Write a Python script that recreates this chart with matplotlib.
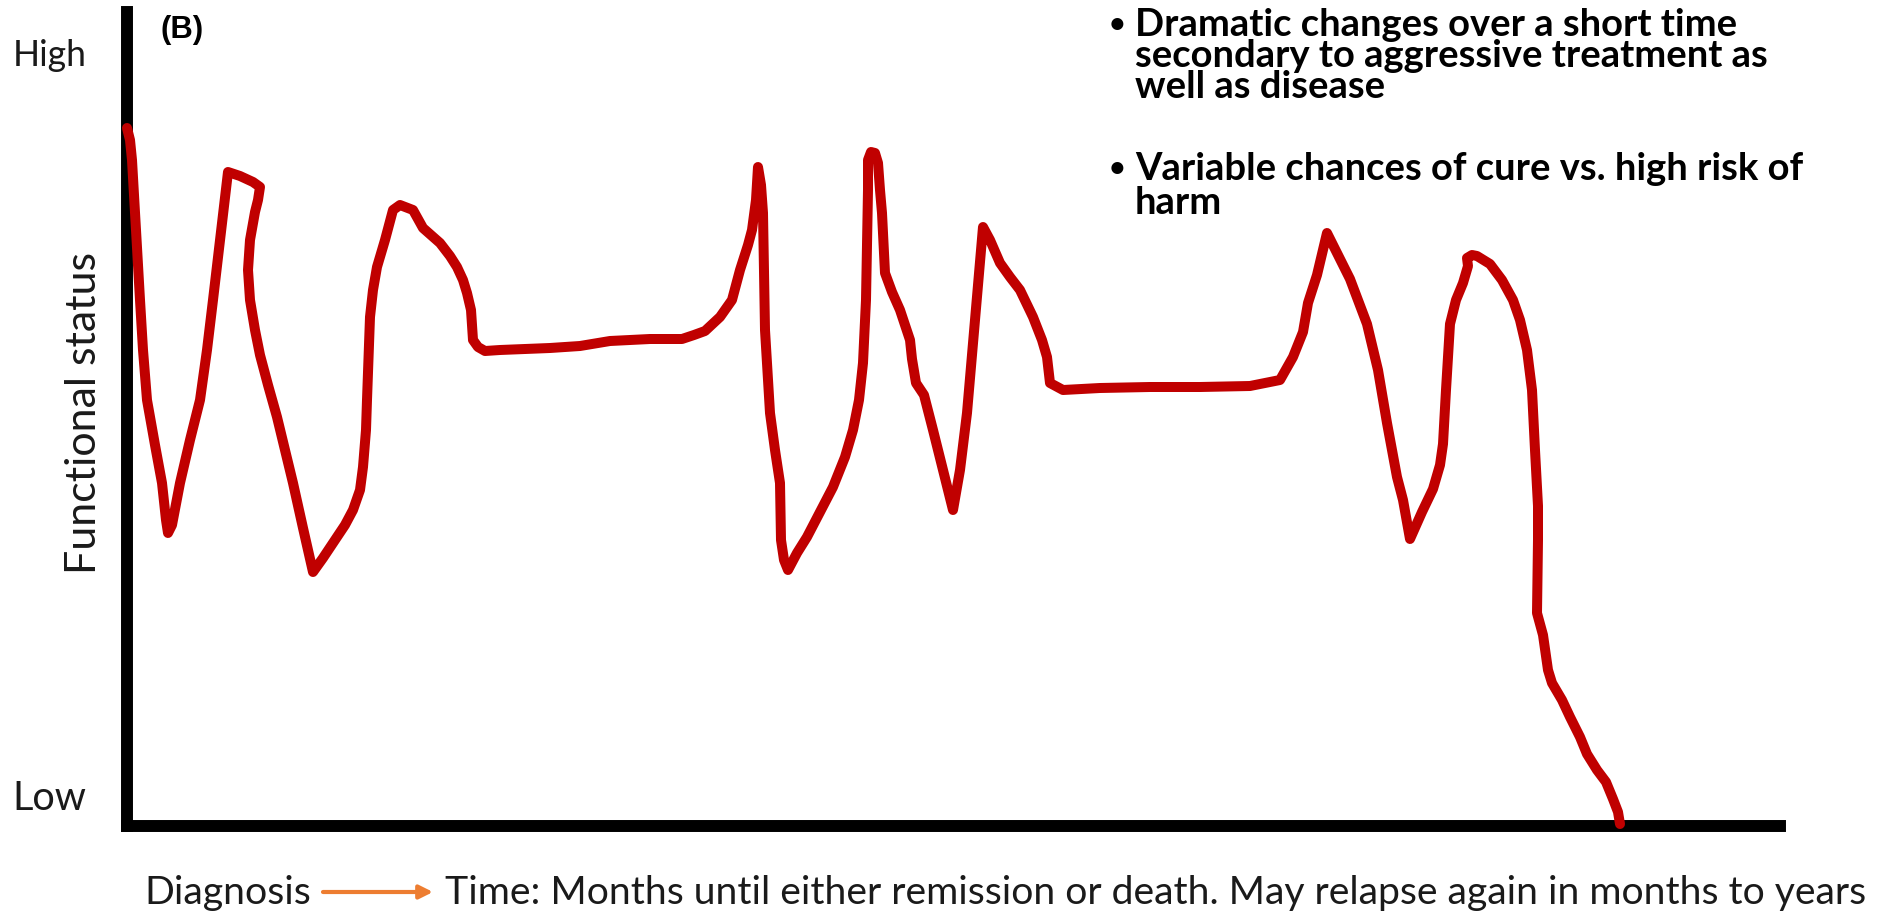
import matplotlib
matplotlib.use('Agg')
import matplotlib.pyplot as plt
from matplotlib import font_manager

# curve (time, functional status) in arbitrary units
time_pts = [0, 3, 5, 9, 13, 16, 20, 28, 35, 39, 41, 45, 53, 63, 73, 80, 86, 93, 101,
            113, 126, 133, 131, 128, 123, 121, 123, 128, 133, 141, 150, 158, 166, 176, 186,
            196, 206, 218, 226, 233, 236, 239, 240, 243, 246, 250, 258, 266, 273, 286, 296,
            313, 323, 330, 336, 340, 344, 346, 351, 358, 373, 423, 453, 483, 523, 555, 567,
            578, 593, 605, 613, 621, 625, 629, 631, 634, 636, 637, 638, 641, 643, 648, 653,
            654, 657, 661, 670, 680, 693, 706, 718, 726, 732, 736, 739, 740, 741, 741, 744,
            748, 751, 753, 755, 758, 765, 773, 783, 785, 789, 797, 806, 816, 826, 833, 840,
            845, 850, 854, 856, 863, 873, 883, 893, 906, 915, 920, 923, 936, 973, 1023, 1073,
            1123, 1153, 1166, 1176, 1181, 1190, 1200, 1211, 1223, 1240, 1251, 1260, 1270, 1276,
            1283, 1295, 1306, 1313, 1316, 1319, 1323, 1329, 1336, 1341, 1340, 1345, 1350, 1363,
            1375, 1386, 1393, 1400, 1405, 1408, 1411, 1411, 1410, 1416, 1421, 1425, 1435, 1443,
            1453, 1460, 1470, 1479, 1486, 1491, 1493]
status_pts = [698, 686, 666, 596, 526, 476, 426, 381, 343, 306, 293, 301, 343, 386, 426, 476, 526, 586, 654,
              650, 644, 639, 626, 614, 586, 556, 526, 496, 471, 441, 409, 376, 343, 298, 254,
              268, 283, 301, 316, 336, 359, 396, 426, 509, 536, 559, 586, 616, 621, 616, 598,
              583, 570, 559, 546, 533, 516, 486, 479, 475, 476, 478, 480, 485, 487, 487, 491,
              495, 509, 526, 556, 581, 596, 626, 659, 641, 613, 556, 496, 446, 413, 376, 343,
              286, 266, 256, 273, 289, 314, 339, 369, 396, 426, 463, 526, 579, 636, 666, 674,
              673, 663, 636, 613, 553, 534, 516, 486, 467, 443, 431, 396, 356, 316, 356, 413,
              471, 529, 576, 599, 586, 563, 549, 536, 509, 486, 469, 443, 436, 438, 439, 439,
              440, 446, 469, 494, 523, 551, 593, 571, 547, 502, 456, 403, 349, 326,
              287, 314, 337, 361, 382, 436, 502, 526, 543, 560, 568, 571, 570, 562,
              546, 526, 506, 476, 436, 376, 320, 286, 213, 191, 156, 143, 126, 109,
              89, 72, 56, 44, 27, 14, 2]

level_labels = ['High', 'Low']
y_label = 'Functional status'
panel_tag = '(B)'
bullets = [['Dramatic changes over a short time',
            'secondary to aggressive treatment as',
            'well as disease'],
           ['Variable chances of cure vs. high risk of',
            'harm']]
start_label = 'Diagnosis'
time_label = 'Time: Months until either remission or death. May relapse again in months to years'

W, H = 1877, 917
names = {f.name for f in font_manager.fontManager.ttflist}
body_font = 'DejaVu Sans'
for cand in ['Lato', 'Open Sans', 'Noto Sans']:
    if cand in names:
        body_font = cand
        break

fig = plt.figure(figsize=(W / 100, H / 100), dpi=100)
ax = fig.add_axes([127 / W, 91 / H, 1653 / W, 814 / H])
ax.plot(time_pts, status_pts, color='#C00000', lw=7.2, solid_joinstyle='round',
        solid_capstyle='round', clip_on=False, zorder=3)
ax.set_xlim(0, 1653)
ax.set_ylim(0, 814)
ax.set_xticks([])
ax.set_yticks([])
for s in ['top', 'right']:
    ax.spines[s].set_visible(False)
for s in ['left', 'bottom']:
    ax.spines[s].set_linewidth(8.6)
    ax.spines[s].set_capstyle('projecting')

renderer = fig.canvas.get_renderer()


def fit(s, x0, x1, base, size=None, **kw):
    # place text with left edge x0 on baseline; scale it to end at x1
    t = fig.text(x0 / W, 1 - base / H, s, ha='left', va='baseline', fontsize=20, **kw)
    if size is None:
        bb = t.get_window_extent(renderer)
        size = 20 * (x1 - x0) / bb.width
    t.set_fontsize(size)
    return size


ink = '#1a1a1a'
fit(level_labels[0], 13, 87, 66, family=body_font, color=ink)
fit(level_labels[1], 12, 86, 810, family=body_font, color=ink)
fit(panel_tag, 160, 203, 38, family='Liberation Sans', weight='bold', color='black')

# rotated axis label
t = fig.text(96 / W, 1 - 413 / H, y_label, rotation=90, rotation_mode='anchor',
             ha='center', va='baseline', family=body_font, fontsize=20, color=ink)
bb = t.get_window_extent(renderer)
t.set_fontsize(20 * 324 / bb.height)

fs = fit(bullets[0][0], 1135, 1735, 36, family=body_font, weight='bold', color='black')
line_y = [[36, 67, 98], [180, 214]]
for grp, ys in zip(bullets, line_y):
    fig.text(1108 / W, 1 - (ys[0] - 2) / H, '\u2022', ha='left', va='baseline',
             family=body_font, fontsize=fs * 0.85, color='black')
    for k, (line, y) in enumerate(zip(grp, ys)):
        if grp is bullets[0] and k == 0:
            continue
        fit(line, 1135, None, y, size=fs, family=body_font, weight='bold', color='black')

fs2 = fit(time_label, 445, 1870, 904, family=body_font, color=ink)
fit(start_label, 144, 311, 904, family=body_font, color=ink)
ax.annotate('', xy=(433 / W, 1 - 892 / H), xytext=(323 / W, 1 - 892 / H),
            xycoords='figure fraction', textcoords='figure fraction',
            arrowprops=dict(arrowstyle='-|>', color='#ED7D31', lw=3, mutation_scale=20,
                            shrinkA=0, shrinkB=0))

fig.savefig('out.png', dpi=100)
